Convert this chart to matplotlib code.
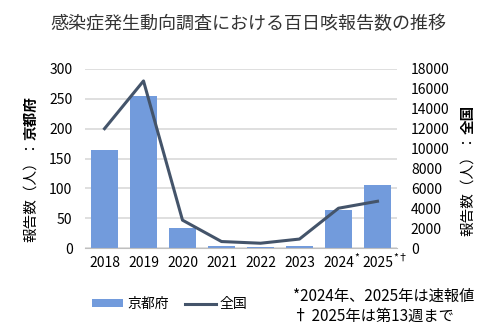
import matplotlib
matplotlib.use("Agg")
import matplotlib.pyplot as plt
from matplotlib.patches import Patch
from matplotlib.lines import Line2D

plt.rcParams['font.family'] = ['Noto Sans CJK JP', 'DejaVu Sans']

years = ["2018", "2019", "2020", "2021", "2022", "2023", "2024", "2025"]
year_marks = ["", "", "", "", "", "", "*", "*†"]
kyoto = [165, 255, 33, 3, 2, 3, 64, 105]
national = [12000, 16800, 2800, 650, 480, 900, 4000, 4700]

bar_color = "#729bdc"
line_color = "#44546a"
grid_color = "#d9d9d9"

fig = plt.figure(figsize=(4.97, 3.36), dpi=100)
ax = fig.add_axes([85/497, 1-248/336, 312/497, 179/336])
ax2 = ax.twinx()

x = list(range(len(years)))
ax.bar(x, kyoto, width=0.67, color=bar_color, zorder=2)
ax2.plot(x, national, color=line_color, linewidth=2.2, zorder=3)

ax.set_xlim(-0.5, 7.5)
ax.set_ylim(0, 300)
ax.set_yticks(range(0, 301, 50))
ax2.set_ylim(0, 18000)
ax2.set_yticks(range(0, 18001, 2000))
ax.set_xticks(x)
ax.set_xticklabels(years, fontsize=10)
ax.yaxis.grid(True, color=grid_color, linewidth=1.2, zorder=0)
ax.set_axisbelow(True)
ax.tick_params(axis='y', length=0, pad=9, labelsize=10)
ax2.tick_params(axis='y', length=0, pad=10, labelsize=10)
ax.tick_params(axis='x', length=0, pad=6)
for a in (ax, ax2):
    for s in ("top", "left", "right"):
        a.spines[s].set_visible(False)
    a.spines["bottom"].set_color("#bfbfbf")
ax2.spines["bottom"].set_visible(False)

fig.text(0.5, 1-24/336, "感染症発生動向調査における百日咳報告数の推移", ha='center', va='center', fontsize=13, color='#333333')

fig.canvas.draw()
r = fig.canvas.get_renderer()

# superscript marks on tick labels
for lbl, mark in zip(ax.get_xticklabels(), year_marks):
    if not mark:
        continue
    bb = lbl.get_window_extent(r)
    fig.text((bb.x1 + 0.5)/497, (bb.y1 - 1)/336, mark, ha='left', va='center', fontsize=7.5)

# y labels with bold parts
t1 = fig.text(31/497, 1-242/336, "報告数（人）：", rotation=90, ha='center', va='bottom', fontsize=10.5)
bb = t1.get_window_extent(r)
fig.text(31/497, bb.y1/336, "京都府", rotation=90, ha='center', va='bottom', fontsize=10.5, fontweight='bold')
t2 = fig.text(468/497, 1-236/336, "報告数（人）：", rotation=90, ha='center', va='bottom', fontsize=10.5)
bb2 = t2.get_window_extent(r)
fig.text(468/497, bb2.y1/336, "全国", rotation=90, ha='center', va='bottom', fontsize=10.5, fontweight='bold')

handles = [Patch(facecolor=bar_color, edgecolor='none'), Line2D([0], [0], color=line_color, linewidth=2.2)]
fig.legend(handles, ["京都府", "全国"], loc='center', bbox_to_anchor=(170/497, 1-304/336), ncol=2,
           frameon=False, fontsize=10, handlelength=2.2, handleheight=0.5, columnspacing=1.2, handletextpad=0.3)

fig.text(293/497, 1-296/336, "*2024年、2025年は速報値", ha='left', va='center', fontsize=11)
fig.text(293/497, 1-316/336, "† 2025年は第13週まで", ha='left', va='center', fontsize=11)

fig.savefig("out.png", dpi=100)
